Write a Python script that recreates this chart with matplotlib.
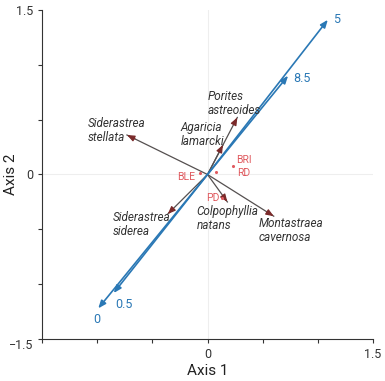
import matplotlib
matplotlib.use("Agg")
import matplotlib.pyplot as plt
from matplotlib import font_manager

names = {f.name for f in font_manager.fontManager.ttflist}
FONT = 'Liberation Sans Narrow' if 'Liberation Sans Narrow' in names else 'Roboto'
plt.rcParams['font.family'] = [FONT, 'DejaVu Sans']

# Species vectors
species = ['Siderastrea\nstellata', 'Porites\nastreoides', 'Agaricia\nlamarcki',
           'Siderastrea\nsiderea', 'Colpophyllia\nnatans', 'Montastraea\ncavernosa']
sp_x = [-0.73, 0.27, 0.14, -0.36, 0.18, 0.60]
sp_y = [0.36, 0.52, 0.27, -0.36, -0.25, -0.38]

# Environmental vectors
env_labels = ['5', '8.5', '0', '0.5']
env_x = [1.09, 0.73, -0.99, -0.85]
env_y = [1.41, 0.90, -1.22, -1.08]

# Sites
sites = ['BLE', 'BRI', 'RD', 'PD']
site_x = [-0.07, 0.23, 0.08, 0.13]
site_y = [0.01, 0.08, 0.02, -0.21]

# label offsets (pixels) and alignments
sp_off = [(-39, 4), (-30, 14), (-42, 10), (-55, -10), (-31, -17), (-15, -14)]
env_off = [(5, 0, 'left'), (5, -3, 'left'), (-1, -11, 'center'), (2, -11, 'left')]
site_off = [(-5, -4, 'right'), (3, 6, 'left'), (21, -1, 'left'), (-2, 0, 'right')]

fig = plt.figure(figsize=(3.85, 3.81), dpi=100)
ax = fig.add_axes([0.109, 0.110, 0.860, 0.864])
ax.set_xlim(-1.5, 1.5)
ax.set_ylim(-1.5, 1.5)

ax.axhline(0, color='#eeeeee', lw=0.8, zorder=0)
ax.axvline(0, color='#eeeeee', lw=0.8, zorder=0)

blue = '#2a78b5'
for x, y, lab, (dx, dy, ha) in zip(env_x, env_y, env_labels, env_off):
    ax.annotate('', xy=(x, y), xytext=(0, 0),
                arrowprops=dict(arrowstyle='-|>,head_length=0.45,head_width=0.18',
                                color=blue, lw=1.2, shrinkA=0, shrinkB=0))
    ax.annotate(lab, xy=(x, y), xytext=(dx, dy), textcoords='offset pixels',
                ha=ha, va='center', color=blue, fontsize=9)

line_c = '#555050'
head_c = '#7a2a2a'
for x, y, lab, (dx, dy) in zip(sp_x, sp_y, species, sp_off):
    ax.plot([0, x], [0, y], color=line_c, lw=0.9, zorder=2)
    ax.annotate('', xy=(x, y), xytext=(0.9 * x, 0.9 * y),
                arrowprops=dict(arrowstyle='-|>,head_length=0.45,head_width=0.18',
                                color=head_c, lw=0.9, shrinkA=0, shrinkB=0), zorder=3)
    ax.annotate(lab, xy=(x, y), xytext=(dx, dy), textcoords='offset pixels',
                ha='left', va='center', color='#333333', fontsize=8.5,
                style='italic', linespacing=1.1)

red = '#e05a5f'
ax.scatter(site_x, site_y, s=1.5, color=red, zorder=4)
for x, y, lab, (dx, dy, ha) in zip(site_x, site_y, sites, site_off):
    ax.annotate(lab, xy=(x, y), xytext=(dx, dy), textcoords='offset pixels',
                ha=ha, va='center', color=red, fontsize=7.5)

ax.spines['top'].set_visible(False)
ax.spines['right'].set_visible(False)
ax.spines['left'].set_color('#333333')
ax.spines['bottom'].set_color('#333333')
ax.set_xticks([-1.5, -1, -0.5, 0, 0.5, 1, 1.5])
ax.set_yticks([-1.5, -1, -0.5, 0, 0.5, 1, 1.5])
ax.set_xticklabels(['', '', '', '0', '', '', '1.5'])
ax.set_yticklabels(['\u22121.5', '', '', '0', '', '', '1.5'])
ax.tick_params(labelsize=9, length=3, width=0.8, color='#333333', labelcolor='#333333')
ax.get_yticklabels()[0].set_va('top')
ax.set_xlabel('Axis 1', fontsize=11, color='#222222', labelpad=2)
ax.set_ylabel('Axis 2', fontsize=11, color='#222222')
ax.yaxis.set_label_coords(-0.072, 0.5)

fig.savefig('out.png', dpi=100)
